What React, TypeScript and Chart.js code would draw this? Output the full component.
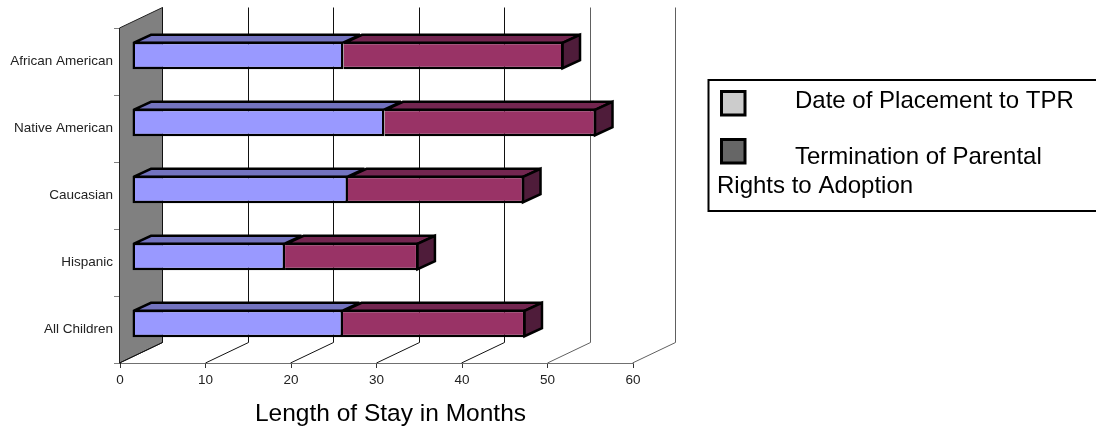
import React, { useEffect, useRef } from "react";
import { Chart, registerables } from "chart.js";

Chart.register(...registerables);

const categories = ["African American", "Native American", "Caucasian", "Hispanic", "All Children"];
const placementToTpr = [24.74, 29.53, 25.26, 17.9, 24.68];
const tprToAdoption = [25.73, 24.74, 20.59, 15.6, 21.34];
const seriesNames = ["Date of Placement to TPR", "Termination of Parental Rights to Adoption"];
const legendLines = [["Date of Placement to TPR"], ["Termination of Parental", "Rights to Adoption"]];
const legendSwatches = ["#cccccc", "#666666"];
const axisTitle = "Length of Stay in Months";

const FONT = '"Liberation Sans", Arial, sans-serif';
const WALL = { dx: 43, dy: -20.5 };
const BAR_OFFSET = { dx: 12, dy: -6 };
const BAR_DEPTH = { dx: 17.5, dy: -8 };
const TOPS = ["#7373bf", "#732650"];
const SIDES = ["#4d4d80", "#4f1c3a"];

const poly = (ctx: CanvasRenderingContext2D, pts: number[][], fill: string) => {
  ctx.beginPath();
  pts.forEach((p, i) => (i ? ctx.lineTo(p[0], p[1]) : ctx.moveTo(p[0], p[1])));
  ctx.closePath();
  ctx.fillStyle = fill;
  ctx.fill();
  ctx.lineJoin = "miter";
  ctx.miterLimit = 2;
  ctx.lineWidth = 2.5;
  ctx.strokeStyle = "#000";
  ctx.stroke();
};

const wallPlugin = {
  id: "wall3d",
  beforeDatasetsDraw(chart: any) {
    const { ctx, chartArea: a, scales } = chart;
    ctx.save();
    ctx.beginPath();
    ctx.moveTo(a.left - 0.5, a.top);
    ctx.lineTo(a.left + WALL.dx - 0.5, a.top + WALL.dy);
    ctx.lineTo(a.left + WALL.dx - 0.5, a.bottom + WALL.dy);
    ctx.lineTo(a.left - 0.5, a.bottom);
    ctx.closePath();
    ctx.fillStyle = "#808080";
    ctx.fill();
    ctx.lineWidth = 1;
    ctx.strokeStyle = "#202020";
    ctx.stroke();
    scales.x.ticks.forEach((t: any) => {
      const x = Math.floor(scales.x.getPixelForValue(t.value) - 0.5) + 0.5;
      ctx.beginPath();
      ctx.moveTo(x, a.bottom);
      ctx.lineTo(x + WALL.dx, a.bottom + WALL.dy);
      ctx.lineTo(x + WALL.dx, a.top + WALL.dy);
      ctx.strokeStyle = t.value < 50 ? "#111111" : "#606060";
      ctx.stroke();
    });
    ctx.restore();
  },
  beforeDatasetDraw(chart: any, args: any) {
    const { ctx } = chart;
    ctx.save();
    ctx.translate(BAR_OFFSET.dx, BAR_OFFSET.dy);
    const i = args.index;
    const last = i === chart.data.datasets.length - 1;
    args.meta.data.forEach((el: any) => {
      const top = el.y - el.height / 2 + 1;
      const bottom = el.y + el.height / 2 - 1;
      const right = el.x - 1;
      const d = BAR_DEPTH;
      poly(ctx, [[el.base + 1, top], [el.base + 1 + d.dx, top + d.dy], [right + d.dx, top + d.dy], [right, top]], TOPS[i]);
      if (last) poly(ctx, [[right, top], [right + d.dx, top + d.dy], [right + d.dx, bottom + d.dy], [right, bottom]], SIDES[i]);
    });
  },
  afterDatasetDraw(chart: any) {
    chart.ctx.restore();
  },
  afterDraw(chart: any) {
    const { ctx } = chart;
    ctx.save();
    ctx.fillStyle = "#000";
    ctx.textBaseline = "alphabetic";
    ctx.textAlign = "center";
    ctx.font = `24.5px ${FONT}`;
    ctx.fillText(axisTitle, 390.5, 421);

    // Legend
    ctx.strokeStyle = "#000";
    ctx.lineWidth = 2;
    ctx.beginPath();
    ctx.moveTo(1096, 80);
    ctx.lineTo(708.5, 80);
    ctx.lineTo(708.5, 212);
    ctx.moveTo(708.5, 211);
    ctx.lineTo(1096, 211);
    ctx.stroke();
    ctx.textAlign = "left";
    ctx.font = `24px ${FONT}`;
    const swatchY = [91.5, 139.5];
    legendSwatches.forEach((c, i) => {
      ctx.fillStyle = c;
      ctx.fillRect(721.5, swatchY[i], 23.5, 23.5);
      ctx.lineWidth = 3;
      ctx.strokeRect(721.5, swatchY[i], 23.5, 23.5);
    });
    ctx.fillStyle = "#000";
    ctx.fillText(legendLines[0][0], 795, 107.5);
    ctx.fillText(legendLines[1][0], 795, 164);
    ctx.fillText(legendLines[1][1], 717, 193);
    ctx.restore();
  },
};

export default function App() {
  const ref = useRef<HTMLCanvasElement>(null);
  useEffect(() => {
    const chart = new Chart(ref.current!, {
      type: "bar",
      plugins: [wallPlugin],
      data: {
        labels: categories,
        datasets: [
          { label: seriesNames[0], data: placementToTpr, backgroundColor: "#9999ff", borderColor: "#000", borderWidth: 2.5, borderSkipped: false },
          { label: seriesNames[1], data: tprToAdoption, backgroundColor: "#993366", borderColor: "#000", borderWidth: 2.5, borderSkipped: "left" },
        ],
      },
      options: {
        indexAxis: "y",
        animation: false,
        responsive: false,
        devicePixelRatio: 1,
        layout: { padding: { top: 28, right: 463, left: 0, bottom: 0 } },
        datasets: { bar: { categoryPercentage: 1, barPercentage: 0.41, clip: false } },
        plugins: { legend: { display: false }, tooltip: { enabled: false }, title: { display: false } },
        scales: {
          x: {
            stacked: true,
            min: 0,
            max: 60,
            ticks: { stepSize: 10, color: "#222", font: { family: FONT, size: 13.5 }, padding: 4, maxRotation: 0 },
            grid: { drawOnChartArea: false, drawTicks: true, tickLength: 5, color: "#333333" },
            border: { color: "#707070" },
            afterFit: (s: any) => { s.height = 65; },
          },
          y: {
            stacked: true,
            ticks: { color: "#222", font: { family: FONT, size: 13.5 }, padding: 1, autoSkip: false },
            grid: { drawOnChartArea: false, drawTicks: true, tickLength: 6, color: "#808080" },
            border: { color: "#202020" },
            afterFit: (s: any) => { s.width = 120; },
          },
        },
      },
    } as any);
    return () => chart.destroy();
  }, []);
  return <canvas ref={ref} width={1096} height={428} style={{ position: "fixed", left: 0, top: 0, display: "block" }} />;
}
